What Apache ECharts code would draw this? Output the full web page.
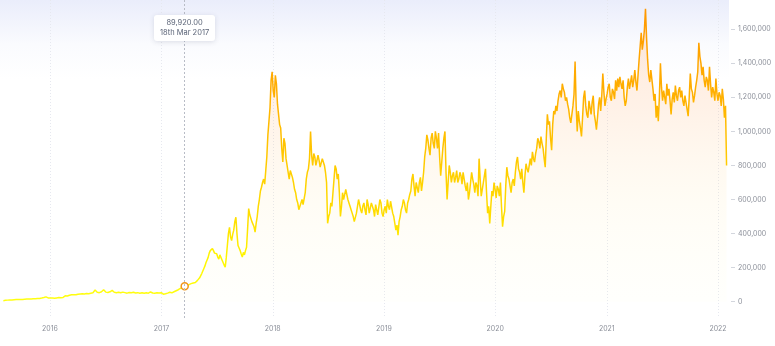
<!DOCTYPE html>
<html><head><meta charset="utf-8">
<script src="https://cdn.jsdelivr.net/npm/echarts@6/dist/echarts.min.js"></script>
<style>html,body{margin:0;padding:0;background:#fff}#c{width:775px;height:346px}</style>
</head><body><div id="c"></div>
<script>
// closing values (thousands), first point on 1 Aug 2015, one point every 3.5 days
const startDate = [2015, 7, 1];
const stepDays = 3.5;
const v2015 = [6,7, 8,8, 9,10, 10,9, 10,11, 11,12, 12,12, 12,13, 13,13, 13,14, 14,14, 15,15, 15,16, 16,16, 17,17, 17,18, 18,18, 19,20, 21,23, 24,27, 28,25, 22,23];
const v2016 = [22,24, 21,20, 20,21, 22,23, 24,22, 23,24, 25,30, 34,32, 33,36, 38,39, 40,42, 41,40, 40,42, 43,44, 45,44, 46,47, 45,46, 48,46, 47,49, 50,51, 52,58, 68,60, 55,54, 53,56, 58,62, 70,60, 56,52, 54,56, 58,60, 66,58, 55,52, 53,57, 55,53, 52,54, 56,55, 53,51, 50,52, 54,56, 52,53, 55,53, 51,54, 53,52, 50,51, 52,50, 49,51, 52,53, 50,52, 57,54, 51,50, 50,53, 52,50, 51,54, 53,48];
const v2017 = [44,45, 46,48, 50,53, 55,52, 52,56, 58,61, 64,67, 70,74, 78,80, 83,86, 89.92,87, 85,92, 100,104, 106,103, 110,112, 113,118, 125,132, 140,150, 165,180, 195,210, 230,245, 260,285, 300,290, 312,300, 285,295, 282,262, 250,275, 270,245, 230,215, 202,260, 330,400, 437,380, 359,395, 420,470, 496,400, 330,315, 300,280, 262,290, 275,300, 320,430, 547,510, 500,470, 476,440, 408,460, 500,560, 600,650, 672,700, 720,690, 770,850, 980,1060, 1140,1300, 1350,1240];
const v2018 = [1200,1330, 1280,1160, 1100,1040, 1020,900, 820,960, 930,840, 800,760, 720,770, 780,730, 700,660, 640,600, 580,540, 530,580, 600,570, 560,640, 720,760, 780,840, 1000,860, 800,870, 850,800, 800,860, 830,790, 780,840, 820,800, 760,700, 460,500, 520,580, 560,640, 720,800, 780,720, 750,640, 500,560, 640,600, 600,660, 650,600, 580,560, 540,520, 500,470, 460,520, 560,600, 590,540, 520,560, 580,540, 510,600, 570,520, 530,580, 590,540, 500,570, 560,510, 520,600, 580,520, 500,540];
const v2019 = [560,520, 600,560, 540,590, 580,520, 500,460, 420,450, 390,470, 500,540, 560,600, 580,540, 520,580, 600,630, 650,720, 750,680, 620,700, 690,640, 700,730, 650,700, 760,850, 900,980, 950,900, 860,960, 990,930, 900,1000, 960,900, 990,850, 740,820, 900,960, 1000,760, 600,700, 800,760, 700,740, 760,700, 730,770, 700,720, 760,740, 690,760, 720,680, 650,700, 600,640, 700,760, 720,690, 640,700, 680,620, 840,720, 620,660, 700,740, 780,640, 520,560, 460,560, 650,620, 700,660];
const v2020 = [610,680, 660,620, 700,560, 440,500, 530,680, 790,740, 720,680, 640,700, 720,680, 760,820, 850,780, 760,720, 780,700, 640,740, 810,780, 760,800, 840,800, 880,840, 820,870, 900,960, 940,900, 970,930, 900,840, 790,960, 1100,1040, 1060,960, 890,1040, 1120,1100, 1150,1120, 1180,1220, 1240,1200, 1280,1250, 1230,1180, 1200,1160, 1130,1080, 1050,1100, 1150,1220, 1410,1150, 1000,1120, 1060,1020, 970,1080, 1200,1240, 1150,1100, 1080,1180, 1140,1100, 1170,1210, 1100,1060, 1010,1080, 1160,1200, 1120,1210, 1340,1230, 1150,1190];
const v2021 = [1220,1260, 1280,1200, 1180,1250, 1230,1190, 1300,1240, 1310,1260, 1320,1280, 1250,1300, 1200,1150, 1180,1260, 1310,1250, 1290,1330, 1260,1300, 1360,1290, 1240,1330, 1420,1500, 1580,1480, 1530,1600, 1720,1550, 1420,1330, 1290,1360, 1350,1250, 1180,1220, 1080,1150, 1060,1200, 1400,1260, 1180,1240, 1200,1160, 1280,1210, 1250,1180, 1100,1190, 1230,1170, 1270,1210, 1180,1240, 1260,1200, 1240,1180, 1150,1210, 1200,1130, 1090,1200, 1340,1250, 1230,1170, 1210,1260, 1300,1350, 1520,1440, 1400,1330, 1380,1300, 1260,1320, 1300,1240, 1380,1280, 1200,1260, 1230,1180, 1310,1220];
const v2022 = [1180,1230, 1210,1150, 1250,1190, 1080,1150, 800];
const yTickValues = [0,200000,400000,600000,800000,1000000,1200000,1400000,1600000];
const xYears = [2016,2017,2018,2019,2020,2021,2022];
const highlightDate = [2017, 2, 18]; // 18 Mar 2017

const allVals = [].concat(v2015, v2016, v2017, v2018, v2019, v2020, v2021, v2022);
const t0 = new Date(startDate[0], startDate[1], startDate[2]).getTime();
const DAY = 86400000;
const seriesData = allVals.map((v, i) => [t0 + i * stepDays * DAY, Math.round(v * 1000)]);
const yearTicks = xYears.map(y => new Date(y, 0, 1).getTime());
const hT = new Date(highlightDate[0], highlightDate[1], highlightDate[2]).getTime();
let highlightIndex = 0;
seriesData.forEach((d, i) => { if (Math.abs(d[0] - hT) < Math.abs(seriesData[highlightIndex][0] - hT)) highlightIndex = i; });

const months = ['Jan','Feb','Mar','Apr','May','Jun','Jul','Aug','Sep','Oct','Nov','Dec'];
function ordinal(d){ if (d>3 && d<21) return d+'th'; switch(d%10){case 1:return d+'st';case 2:return d+'nd';case 3:return d+'rd';default:return d+'th';} }
function fmtNum(v){ return v.toLocaleString('en-US'); }

const chart = echarts.init(document.getElementById('c'), null, {renderer:'canvas'});
const font = 'Inter, "Noto Sans", sans-serif';
chart.setOption({
  animation: false,
  backgroundColor: '#ffffff',
  grid: {
    left: 0, right: 46, top: 0, bottom: 28, show: true, borderWidth: 0,
    backgroundColor: new echarts.graphic.LinearGradient(0,0,0,1,[
      {offset:0,color:'#eaedfb'},{offset:0.14,color:'#fafbfe'},{offset:0.25,color:'#ffffff'},{offset:1,color:'#ffffff'}
    ])
  },
  tooltip: {
    trigger: 'axis',
    triggerOn: 'none',
    alwaysShowContent: true,
    transitionDuration: 0,
    backgroundColor: '#ffffff',
    borderWidth: 0,
    padding: [3, 6],
    extraCssText: 'box-shadow:0 1px 5px rgba(60,70,100,0.16);border-radius:3px;text-align:center;line-height:10px;',
    textStyle: { color: '#5b6477', fontSize: 7.5, fontFamily: font },
    axisPointer: {
      type: 'line',
      lineStyle: { color: '#b8bcc6', width: 1, type: [2, 2] },
      label: { show: false }
    },
    position: function (point, params, dom, rect, size) {
      return [point[0] - size.contentSize[0] / 2, 15];
    },
    formatter: function (params) {
      const p = params[0];
      const d = new Date(p.value[0]);
      const val = p.value[1].toLocaleString('en-US', {minimumFractionDigits:2, maximumFractionDigits:2});
      return val + '<br/>' + ordinal(d.getDate()) + ' ' + months[d.getMonth()] + ' ' + d.getFullYear();
    }
  },
  xAxis: {
    type: 'time',
    min: new Date(2015, 6, 21).getTime(),
    max: new Date(2022, 1, 6).getTime(),
    axisLine: { show: false },
    axisTick: { show: false, customValues: yearTicks },
    axisLabel: { customValues: yearTicks, formatter: '{yyyy}', color: '#8b8f99', fontSize: 7, fontFamily: font, margin: 7 },
    splitLine: { show: true, lineStyle: { color: '#e6e8ef', width: 1, type: [1, 2] } }
  },
  yAxis: {
    type: 'value',
    position: 'right',
    offset: 2,
    min: -96000,
    max: 1772000,
    axisLine: { show: false },
    axisTick: { show: true, length: 4, customValues: yTickValues, lineStyle: { color: '#d3d6dd' } },
    axisLabel: { customValues: yTickValues, formatter: v => fmtNum(v), color: '#8b8f99', fontSize: 7, fontFamily: font, margin: 7 },
    splitLine: { show: false }
  },
  series: [{
    type: 'line',
    data: seriesData,
    showSymbol: false,
    symbol: 'circle',
    symbolSize: 7,
    itemStyle: { color: '#ffffff', borderColor: '#f0961a', borderWidth: 1.5 },
    lineStyle: {
      width: 1.5,
      color: new echarts.graphic.LinearGradient(0,0,0,1,[
        {offset:0,color:'#f08a00'},
        {offset:0.3,color:'#ffa000'},
        {offset:0.45,color:'#ffb000'},
        {offset:0.58,color:'#ffbe00'},
        {offset:0.72,color:'#ffcb00'},
        {offset:0.85,color:'#fde000'},
        {offset:1,color:'#f4ee10'}
      ])
    },
    areaStyle: {
      color: new echarts.graphic.LinearGradient(0,0,0,1,[
        {offset:0,color:'rgba(248,135,80,0.34)'},
        {offset:0.35,color:'rgba(250,155,95,0.22)'},
        {offset:0.65,color:'rgba(255,200,125,0.13)'},
        {offset:1,color:'rgba(255,240,170,0.06)'}
      ])
    },
    emphasis: { scale: false, focus: 'none', lineStyle: { width: 1.5 } }
  }]
});
chart.dispatchAction({ type: 'showTip', seriesIndex: 0, dataIndex: highlightIndex });
</script>
</body></html>
